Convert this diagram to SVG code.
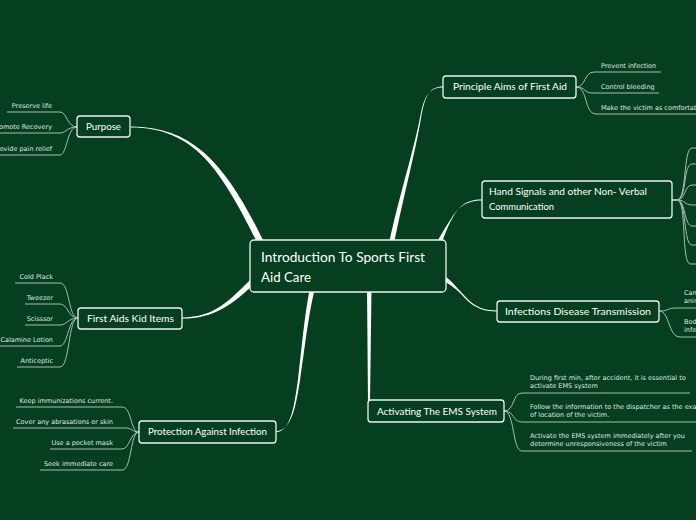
<svg xmlns="http://www.w3.org/2000/svg" width="696" height="520" viewBox="0 0 696 520">
<style>
.bg{fill:#063f20}
.main{fill:#ffffff}
.sub{fill:none;stroke:#a9bdb0;stroke-width:1}
.node{fill:#063f20;stroke:#eef3ef;stroke-width:1.3}
.title{font-family:Lato,"Liberation Sans",sans-serif;font-size:10px;fill:#ffffff}
.ctitle{font-family:Lato,"Liberation Sans",sans-serif;font-size:13px;fill:#ffffff}
.item{font-family:"DejaVu Sans",Verdana,sans-serif;font-size:6.5px;fill:#dfe7e1}
.end{text-anchor:end}
</style>
<rect class="bg" x="0" y="0" width="696" height="520"/>
<g id="connectors">
  <path class="main" d="M131,126.4 C196,126.4 228,168 265,244 L259,246 C222,172 196,127.6 131,127.6 Z"/>
  <path class="main" d="M182,317.4 C215,317.4 230,300 254,276 L258,280 C234,304 215,318.6 182,318.6 Z"/>
  <path class="main" d="M276,431.5 C292.5,429.5 295.8,405 300,380.5 C304.5,350 309,310 315.5,286.6 L310.5,285.4 C305,310 301.5,350 298,379.5 C294.2,405 291.5,430.5 276,432.5 Z"/>
  <path class="main" d="M367,288 L371.5,288 L370,402 L368,402 Z"/>
  <path class="main" d="M443,86.5 C430,86.5 425.5,95 421.5,115 C416,150 402.5,200 393.5,246.5 L388.5,245.5 C398,200 414,150 420.5,115 C424.5,95 430,87.5 443,87.5 Z"/>
  <path class="main" d="M482,199.5 C465,199.5 458.5,207.5 452.8,217.5 C448,225.5 445,234 440.3,247 L435.7,245 C441,234 446,226.5 451.2,218.5 C457.5,208.5 465,200.5 482,200.5 Z"/>
  <path class="main" d="M497,310.5 C475,310.5 468.5,299.5 460.5,291.5 C455.5,286 451.5,280.5 443.3,274.9 L440.7,279.1 C449,284 454.5,288 459.5,292.5 C467.5,300.5 475,311.5 497,311.5 Z"/>

  <path class="sub" d="M7,112 H60 C67,112 67,127 77,127"/>
  <path class="sub" d="M0,133 H60 C66,133 67,127 77,127"/>
  <path class="sub" d="M0,155 H60 C67,155 67,127 77,127"/>

  <path class="sub" d="M15,283 H60 C70,283 68,318 78,318"/>
  <path class="sub" d="M25,304 H60 C68,304 68,318 78,318"/>
  <path class="sub" d="M25,325 H60 C67,325 68,318 78,318"/>
  <path class="sub" d="M0,346 H60 C68,346 68,318 78,318"/>
  <path class="sub" d="M17,367 H60 C70,367 68,318 78,318"/>

  <path class="sub" d="M16,407 H122 C132,407 130,432 139,432"/>
  <path class="sub" d="M13,428 H126 C132,428 132,432 139,432"/>
  <path class="sub" d="M50,449 H122 C130,449 130,432 139,432"/>
  <path class="sub" d="M40,470 H122 C132,470 130,432 139,432"/>

  <path class="sub" d="M576,87 C586,87 584,72 594,72 H661"/>
  <path class="sub" d="M576,87 C586,87 584,93 592,93 H659"/>
  <path class="sub" d="M576,87 C588,87 584,114 596,114 H696"/>

  <path class="sub" d="M672,200 H677 C687,200 683,148 692,148 H696"/>
  <path class="sub" d="M672,200 H677 C687,200 683,164 692,164 H696"/>
  <path class="sub" d="M672,200 H677 C686,200 684,185 692,185 H696"/>
  <path class="sub" d="M672,200 H677 C686,200 684,205 692,205 H696"/>
  <path class="sub" d="M672,200 H677 C686,200 684,226 692,226 H696"/>
  <path class="sub" d="M672,200 H677 C687,200 683,245 692,245 H696"/>
  <path class="sub" d="M672,200 H677 C687,200 681,262 690,264 H696"/>

  <path class="sub" d="M659,311 C670,311 666,308 676,308 H696"/>
  <path class="sub" d="M659,311 C670,311 668,337 680,337 H696"/>

  <path class="sub" d="M504,411 C515,411 512,393 522,393 H690"/>
  <path class="sub" d="M504,411 C515,411 512,422 522,422 H696"/>
  <path class="sub" d="M504,411 C515,411 512,451 522,451 H692"/>
</g>

<g id="center">
  <rect class="node" x="250" y="240" width="196" height="52" rx="4"/>
  <text class="ctitle" x="261" y="262" textLength="164" lengthAdjust="spacingAndGlyphs">Introduction To Sports First</text>
  <text class="ctitle" x="261" y="282" textLength="50" lengthAdjust="spacingAndGlyphs">Aid Care</text>
</g>

<g id="purpose">
  <rect class="node" x="77" y="116" width="53" height="21" rx="3"/>
  <text class="title" x="86" y="130" textLength="35" lengthAdjust="spacingAndGlyphs">Purpose</text>
  <text class="item end" x="52" y="107.5">Preserve life</text>
  <text class="item end" x="52" y="128.5">Promote Recovery</text>
  <text class="item end" x="52" y="150.5">Provide pain relief</text>
</g>

<g id="kit">
  <rect class="node" x="78" y="308" width="104" height="21" rx="3"/>
  <text class="title" x="87" y="321.5" textLength="87" lengthAdjust="spacingAndGlyphs">First Aids Kid Items</text>
  <text class="item end" x="53" y="278.5">Cold Plack</text>
  <text class="item end" x="53" y="299.5">Tweezer</text>
  <text class="item end" x="53" y="320.5">Scisssor</text>
  <text class="item end" x="53" y="341.5">Calamine Lotion</text>
  <text class="item end" x="53" y="362.5">Anticeptic</text>
</g>

<g id="protection">
  <rect class="node" x="139" y="421" width="137" height="22" rx="3"/>
  <text class="title" x="148" y="435" textLength="119" lengthAdjust="spacingAndGlyphs">Protection Against Infection</text>
  <text class="item end" x="113" y="402.5">Keep immunizations current.</text>
  <text class="item end" x="113" y="423.5">Cover any abrasations or skin</text>
  <text class="item end" x="113" y="444.5">Use a pocket mask</text>
  <text class="item end" x="113" y="465.5">Seek immediate care</text>
</g>

<g id="aims">
  <rect class="node" x="443" y="76" width="133" height="22" rx="3"/>
  <text class="title" x="453" y="90" textLength="114" lengthAdjust="spacingAndGlyphs">Principle Aims of First Aid</text>
  <text class="item" x="601" y="67.5">Prevent infection</text>
  <text class="item" x="601" y="88.5">Control bleeding</text>
  <text class="item" x="601" y="109.5">Make the victim as comfortable as possible</text>
</g>

<g id="hand">
  <rect class="node" x="482" y="181" width="190" height="37" rx="3"/>
  <text class="title" x="489" y="195" textLength="158" lengthAdjust="spacingAndGlyphs">Hand Signals and other Non- Verbal</text>
  <text class="title" x="489" y="210" textLength="65" lengthAdjust="spacingAndGlyphs">Communication</text>
</g>

<g id="infections">
  <rect class="node" x="497" y="301" width="162" height="21" rx="3"/>
  <text class="title" x="505" y="314.5" textLength="146" lengthAdjust="spacingAndGlyphs">Infections Disease Transmission</text>
  <text class="item" x="684" y="295">Can be</text>
  <text class="item" x="684" y="303">animals</text>
  <text class="item" x="684" y="324">Body</text>
  <text class="item" x="684" y="332">infection</text>
</g>

<g id="ems">
  <rect class="node" x="368" y="400" width="136" height="22" rx="3"/>
  <text class="title" x="377" y="414.5" textLength="120" lengthAdjust="spacingAndGlyphs">Activating The EMS System</text>
  <text class="item" x="530" y="380">During first min, after accident, it is essential to</text>
  <text class="item" x="530" y="388">activate EMS system</text>
  <text class="item" x="530" y="409">Follow the information to the dispatcher as the exact</text>
  <text class="item" x="530" y="417">of location of the victim.</text>
  <text class="item" x="530" y="438">Activate the EMS system immediately after you</text>
  <text class="item" x="530" y="446">determine unresponsiveness of the victim</text>
</g>
</svg>
